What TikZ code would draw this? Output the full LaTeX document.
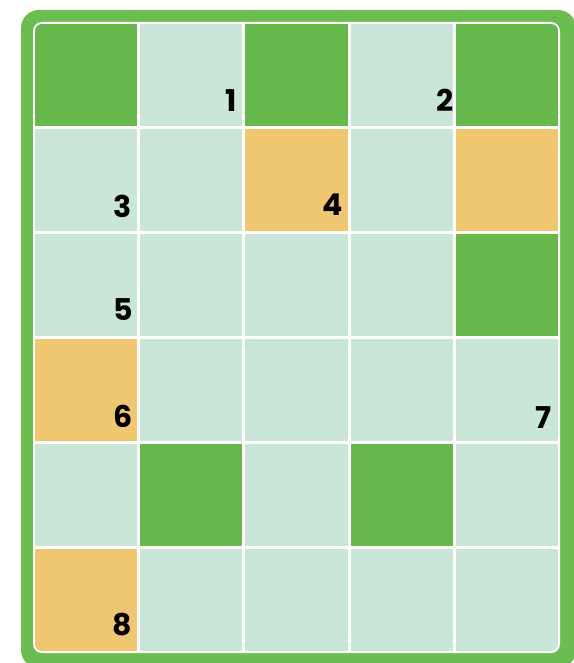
\documentclass[tikz,border=0pt]{standalone}
\usepackage{fontspec}
\newfontfamily\numfont{Poppins}
\definecolor{frame}{RGB}{108,189,80}
\definecolor{dk}{RGB}{101,184,73}
\definecolor{lt}{RGB}{201,230,215}
\definecolor{or}{RGB}{240,198,113}
\tikzset{board/.style={x=1pt,y=-1pt,font=\numfont\bfseries\fontsize{30}{30}\selectfont},
  cell/.style={anchor=north west,minimum width=102.2pt,minimum height=102pt,inner sep=0pt,outer sep=0pt},
  num/.style={anchor=base east,inner sep=0pt}}

\begin{document}
\begin{tikzpicture}[board]
    \useasboundingbox (0,0) rectangle (573,663);
    \fill[white] (0,0) rectangle (573,663);
    \fill[frame,rounded corners=18pt] (21,10) rectangle (576,668);   % outer frame
    \fill[white,rounded corners=9pt] (33,22) rectangle (560,653);
    \begin{scope}
    \clip[rounded corners=7pt] (35,24) rectangle (558,651);
    \foreach \rowcols [count=\r] in {{dk,lt,dk,lt,dk},{lt,lt,or,lt,or},{lt,lt,lt,lt,dk},
                                     {or,lt,lt,lt,lt},{lt,dk,lt,dk,lt},{or,lt,lt,lt,lt}}
      \foreach \f [count=\c] in \rowcols
        \node[cell,fill=\f] (c\r\c) at ({35+(\c-1)*105.2},{24+(\r-1)*105}) {};
    \end{scope}
    \foreach \cname/\n/\dx/\dy in {c12/1/-5/14,c14/2/1/14,c21/3/-5/14,c23/4/-5/16,
                                    c31/5/-4/16,c41/6/-4/14,c45/7/-6/13,c61/8/-5/16}
      \node[num] (n\n) at ([xshift=\dx pt,yshift=\dy pt]\cname.south east) {\n};
  \end{tikzpicture}
\end{document}
